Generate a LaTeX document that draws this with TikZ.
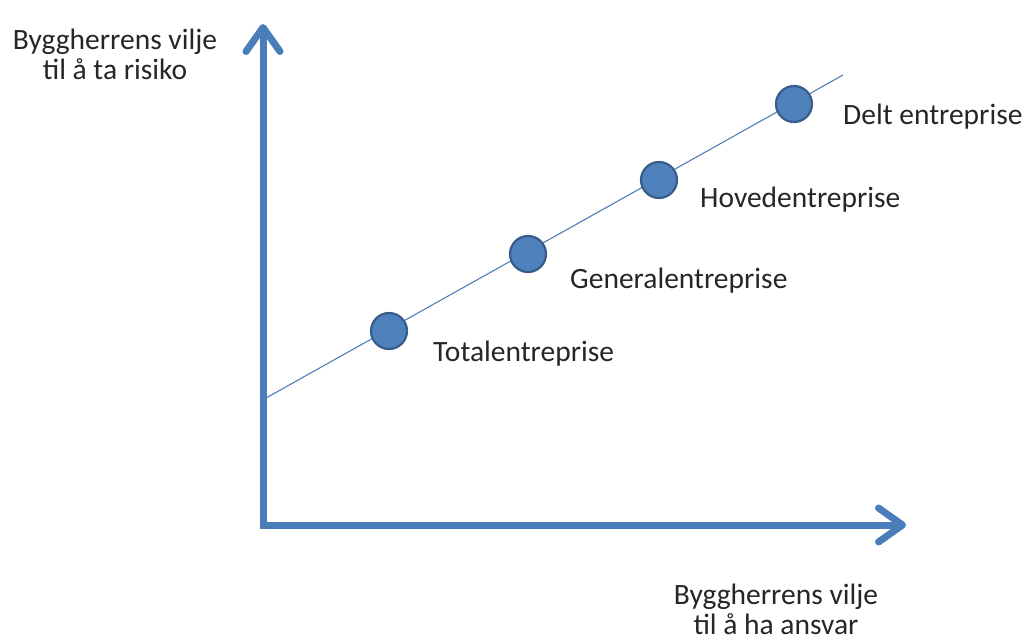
\documentclass[tikz,border=0pt]{standalone}
\usepackage{fontspec}
\setmainfont{Carlito}
\usetikzlibrary{arrows.meta}
\definecolor{axisblue}{HTML}{4A7EBB}
\definecolor{dotfill}{HTML}{4F81BD}
\definecolor{dotedge}{HTML}{385D8A}
\definecolor{txt}{HTML}{262626}
\begin{document}
\begin{tikzpicture}[x=1pt,y=-1pt,
  axis/.style={draw=axisblue,line width=7pt,line cap=rect,
    -{Straight Barb[length=24pt,width=34pt,line width=7pt,round]}},
  dot/.style={circle,fill=dotfill,draw=dotedge,line width=2.2pt,minimum size=36pt,inner sep=0pt},
  lbl/.style={font=\fontsize{29.5}{30}\selectfont,text=txt,inner sep=0pt},
  trend/.style={draw=axisblue!85!gray,line width=1.1pt}]
\useasboundingbox (0,0) rectangle (1022,640);
\coordinate (O) at (263,525);
\coordinate (ytip) at (263,24);
\coordinate (xtip) at (906,525);
\coordinate (ls) at (266,398);
\coordinate (le) at (843,75);
\draw[axis] (O) -- (ytip);
\draw[axis] (O) -- (xtip);
\draw[trend] (ls) -- (le);
\node[dot] (d1) at (389,331) {};
\node[dot] (d2) at (528,254) {};
\node[dot] (d3) at (659,180) {};
\node[dot] (d4) at (794,104) {};
\node[lbl,anchor=base west] (l4) at (843,124) {Delt entreprise};
\node[lbl,anchor=base west] (l3) at (700,207) {Hovedentreprise};
\node[lbl,anchor=base west] (l2) at (570,288) {Generalentreprise};
\node[lbl,anchor=base west] (l1) at (433,361) {Totalentreprise};
\node[lbl,align=center,anchor=base] (yl) at (115,79) {Byggherrens vilje\\til å ta risiko};
\node[lbl,align=center,anchor=base] (xl) at (776,634) {Byggherrens vilje\\til å ha ansvar};
\end{tikzpicture}
\end{document}
